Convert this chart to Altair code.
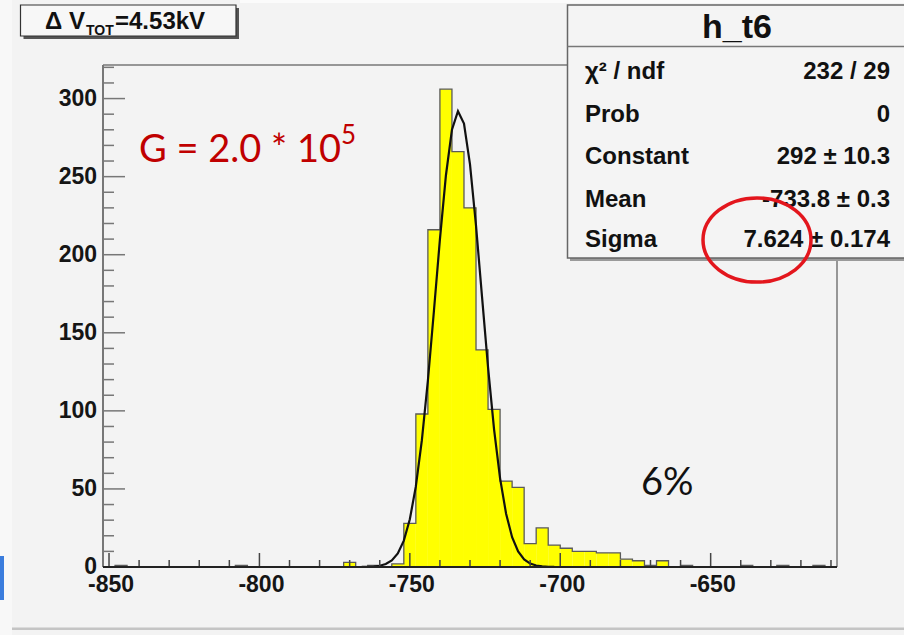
import altair as alt
import pandas as pd

# ---------------- data ----------------
bin_lo = -852          # first bin edge
bin_width = 4
counts = [0, 1, 0, 0, 0, 0, 0, 0, 0, 0,      # -852 .. -816
          0, 1, 0, 0, 0, 0, 0, 0, 0, 0,      # -812 .. -776
          3, 0, 1, 0, 2, 28, 98, 216, 306, 266,  # -772 .. -736
          230, 139, 101, 55, 51, 15, 25, 14, 12, 10,  # -732 .. -696
          10, 9, 9, 5, 4, 1, 4, 0, 1, 0,     # -692 .. -656
          0, 0, 0, 1, 0, 0, 1, 0, 0, 1,      # -652 .. -616
          0]                                 # -612
bin_starts = [bin_lo + bin_width * k for k in range(len(counts))]
bin_ends = [b + bin_width for b in bin_starts]

fit_x = [-766, -764, -762, -760, -758, -756, -754, -752, -750, -748, -746,
         -744, -742, -740, -738, -736, -734, -732, -730, -728, -726, -724,
         -722, -720, -718, -716, -714, -712, -710, -708, -706, -704, -702]
fit_y = [0.04, 0.11, 0.31, 0.8, 1.9, 4.2, 8.7, 16.9, 30.6, 51.6, 81.2,
         119.3, 163.8, 209.8, 250.9, 280.1, 291.9, 284.0, 257.9, 218.6, 173.0, 127.8,
         88.2, 56.8, 34.1, 19.1, 10.0, 4.9, 2.2, 0.95, 0.38, 0.14, 0.05]

x_major = [-850, -800, -750, -700, -650]
x_minor = [-840, -830, -820, -810, -790, -780, -770, -760, -740, -730, -720,
           -710, -690, -680, -670, -660, -640, -630, -620, -610]
y_major = [0, 50, 100, 150, 200, 250, 300]
y_minor = [10, 20, 30, 40, 60, 70, 80, 90, 110, 120, 130, 140, 160, 170, 180,
           190, 210, 220, 230, 240, 260, 270, 280, 290, 310, 320]

x_domain = [-852, -608]
y_domain = [0, 321.5]

title_parts = ["\u0394 V", "TOT", "=4.53kV"]
stats_title = "h_t6"
stats_labels = ["\u03c7\u00b2 / ndf", "Prob", "Constant", "Mean", "Sigma"]
stats_values = ["232 / 29", "0", "292 \u00b1 10.3", "-733.8 \u00b1 0.3", "7.624 \u00b1 0.174"]
gain_text = ["G = 2.0 * 10", "5"]
pct_text = "6%"

# ---------------- layout ----------------
OX, OY = 103, 65          # plot origin in page pixels
W, H = 734, 502
BG = "#f3f3f3"
AX_FONT = "Liberation Sans"

XS = alt.Scale(domain=x_domain, nice=False, zero=False)
YS = alt.Scale(domain=y_domain, nice=False, zero=False)
one = pd.DataFrame({"k": [0]})


def rect(x0, y0, x1, y1, **kw):
    return alt.Chart(one).mark_rect(**kw).encode(
        x=alt.value(x0 - OX), x2=alt.value(x1 - OX),
        y=alt.value(y0 - OY), y2=alt.value(y1 - OY))


def hline(x0, x1, y, **kw):
    return alt.Chart(one).mark_rule(**kw).encode(
        x=alt.value(x0 - OX), x2=alt.value(x1 - OX), y=alt.value(y - OY))


def vline(x, y0, y1, **kw):
    return alt.Chart(one).mark_rule(**kw).encode(
        x=alt.value(x - OX), y=alt.value(y0 - OY), y2=alt.value(y1 - OY))


def text(s, x, y, size, align="left", color="#111111", font=AX_FONT, weight="bold"):
    return alt.Chart(one).mark_text(
        text=s, align=align, baseline="alphabetic", font=font, fontSize=size,
        fontWeight=weight, color=color).encode(x=alt.value(x - OX), y=alt.value(y - OY))


hist_df = pd.DataFrame({"lo": bin_starts, "hi": bin_ends, "n": counts})
step_df = pd.DataFrame({"x": bin_starts + [bin_ends[-1]], "n": counts + [counts[-1]]})
fit_df = pd.DataFrame({"x": fit_x, "y": fit_y})

bars = alt.Chart(hist_df).mark_rect(fill="#ffff00", strokeWidth=0).encode(
    x=alt.X("lo:Q", scale=XS, axis=None),
    x2="hi:Q",
    y=alt.Y("n:Q", scale=YS, axis=None),
    y2=alt.value(H))

outline = alt.Chart(step_df).mark_line(interpolate="step-after", color="#5a5a5a",
                                       strokeWidth=1.3).encode(
    x=alt.X("x:Q", scale=XS, axis=None), y=alt.Y("n:Q", scale=YS, axis=None))

curve = alt.Chart(fit_df).mark_line(color="#111111", strokeWidth=2.2).encode(
    x=alt.X("x:Q", scale=XS, axis=None), y=alt.Y("y:Q", scale=YS, axis=None))

xt_major = alt.Chart(pd.DataFrame({"v": x_major})).mark_rule(color="#444444", strokeWidth=1.5).encode(
    x=alt.X("v:Q", scale=XS, axis=None), y=alt.value(H), y2=alt.value(H - 14))
xt_minor = alt.Chart(pd.DataFrame({"v": x_minor})).mark_rule(color="#444444", strokeWidth=1.5).encode(
    x=alt.X("v:Q", scale=XS, axis=None), y=alt.value(H), y2=alt.value(H - 7))
yt_major = alt.Chart(pd.DataFrame({"v": y_major})).mark_rule(color="#777777", strokeWidth=1.5).encode(
    y=alt.Y("v:Q", scale=YS, axis=None), x=alt.value(0), x2=alt.value(22))
yt_minor = alt.Chart(pd.DataFrame({"v": y_minor})).mark_rule(color="#777777", strokeWidth=1.5).encode(
    y=alt.Y("v:Q", scale=YS, axis=None), x=alt.value(0), x2=alt.value(11))

# axis labels (ROOT style, drawn through the scales)
x_lab_df = pd.DataFrame({"v": x_major, "t": [str(v) for v in x_major]})
y_lab_df = pd.DataFrame({"v": y_major, "t": [str(v) for v in y_major]})
x_labels = alt.Chart(x_lab_df).mark_text(
    align="center", baseline="top", font=AX_FONT, fontSize=23, fontWeight="bold",
    color="#151515", dx=2).encode(
    x=alt.X("v:Q", scale=XS, axis=None), y=alt.value(H + 7), text="t:N")
y_labels = alt.Chart(y_lab_df).mark_text(
    align="right", baseline="middle", font=AX_FONT, fontSize=23, fontWeight="bold",
    color="#151515").encode(
    y=alt.Y("v:Q", scale=YS, axis=None), x=alt.value(-6), text="t:N")

frame_top = hline(OX, OX + W, OY, color="#777777", strokeWidth=1.5)
frame_right = vline(OX + W, OY, OY + H, color="#777777", strokeWidth=1.5)
axis_left = vline(OX, OY, OY + H, color="#777777", strokeWidth=2)
axis_bottom = hline(OX, OX + W, OY + H, color="#222222", strokeWidth=2)

# title box
title_layers = [
    rect(23.5, 8, 239, 39, fill="#555555"),
    rect(20.5, 5, 236, 36, fill="#f7f7f7", stroke="#333333", strokeWidth=1.2),
    text(title_parts[0], 45, 28.5, 24),
    text(title_parts[1], 86, 35, 14),
    text(title_parts[2], 115, 28.5, 24),
]

# stats box
stats_layers = [
    rect(570, 8, 910, 261, fill="#9a9a9a"),
    rect(567.5, 5, 910, 258, fill="#f4f4f4", stroke="#666666", strokeWidth=1.5),
    hline(567.5, 904, 46.5, color="#777777", strokeWidth=1.5),
    text(stats_title, 737, 37.5, 34, align="center"),
]
row_base = [79, 121.5, 164, 206.5, 247]
for lab, val, yb in zip(stats_labels, stats_values, row_base):
    stats_layers.append(text(lab, 585, yb, 24))
    stats_layers.append(text(val, 890, yb, 24, align="right"))

ellipse = alt.Chart(one).mark_point(
    shape="M -1 0 A 1 0.78 0 1 0 1 0 A 1 0.78 0 1 0 -1 0 Z",
    size=108 * 108, filled=False, color="#e3161d", strokeWidth=3.5, opacity=1).encode(
    x=alt.value(757 - OX), y=alt.value(240 - OY))

notes = [
    text(gain_text[0], 139, 161.5, 38, color="#c00000", font="Lato", weight="normal"),
    text(gain_text[1], 341, 144, 26, color="#c00000", font="Lato", weight="normal"),
    text(pct_text, 641, 495, 38, color="#111111", font="Lato", weight="normal"),
]

# page decorations
deco = [
    rect(0, -5, 12, 640, fill="#f8f8f8"),
    rect(240, 0, 904, 3, fill="#fbfbfb"),
    rect(12, 627.5, 904, 630, fill="#c4c4c4"),
    rect(0, 556, 4, 600, fill="#3b7ddd"),
]

chart = alt.layer(
    *deco, bars, outline, curve, xt_major, xt_minor, yt_major, yt_minor,
    frame_top, frame_right, axis_left, axis_bottom, x_labels, y_labels,
    *title_layers, *stats_layers, ellipse, *notes
).properties(
    width=W, height=H,
    padding={"left": OX, "top": OY, "right": 904 - OX - W, "bottom": 635 - OY - H},
    autosize=alt.AutoSizeParams(type="none"),
    background=BG,
).configure_view(strokeWidth=0, fill=BG)

chart.save("out.html", embed_options={"renderer": "svg", "actions": False})
